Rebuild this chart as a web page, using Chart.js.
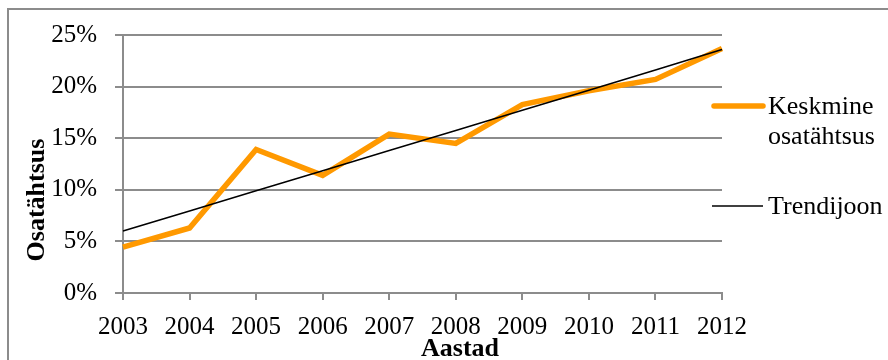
<!DOCTYPE html>
<html>
<head>
<meta charset="utf-8">
<script src="https://cdn.jsdelivr.net/npm/chart.js@4/dist/chart.umd.min.js"></script>
<style>
  html, body { margin: 0; padding: 0; background: #fff; overflow: hidden; }
  #wrap { position: relative; width: 888px; height: 360px; }
  #frame { position: absolute; left: 7px; top: 8px; width: 900px; height: 400px;
           border: 2px solid #8c8c8c; box-sizing: border-box; pointer-events: none; }
  canvas { position: absolute; left: 0; top: 0; }
</style>
</head>
<body>
<div id="wrap">
  <canvas id="c" width="888" height="360"></canvas>
  <div id="frame"></div>
</div>
<script>
const years = ['2003','2004','2005','2006','2007','2008','2009','2010','2011','2012'];
const keskmine = [4.45, 6.3, 13.9, 11.4, 15.4, 14.5, 18.25, 19.6, 20.7, 23.7];
const trend = [6.0, 7.95, 9.9, 11.85, 13.8, 15.75, 17.7, 19.65, 21.6, 23.6];
const seriesNames = ['Keskmine\nosatähtsus', 'Trendijoon'];
const yTitle = 'Osatähtsus';
const xTitle = 'Aastad';

const FONT = "'Liberation Serif', 'Times New Roman', serif";
const GRID = '#8c8c8c';
const ORANGE = '#ff9900';

const customText = {
  id: 'customText',
  afterDraw(chart) {
    const ctx = chart.ctx;
    const area = chart.chartArea;
    ctx.save();
    // axis titles
    ctx.fillStyle = '#000';
    ctx.font = 'bold 26px ' + FONT;
    ctx.textAlign = 'center';
    ctx.textBaseline = 'middle';
    ctx.save();
    ctx.translate(37, 200);
    ctx.rotate(-Math.PI / 2);
    ctx.fillText(yTitle, 0, 0);
    ctx.restore();
    ctx.fillText(xTitle, 460, 349);

    // legend
    const ds = chart.data.datasets;
    const entries = [
      { y: 106, color: ds[0].borderColor, width: 5.5, cap: 'round', lines: seriesNames[0].split('\n') },
      { y: 206, color: ds[1].borderColor, width: 1.5, cap: 'butt', lines: seriesNames[1].split('\n') }
    ];
    ctx.font = '26px ' + FONT;
    ctx.textAlign = 'left';
    entries.forEach(e => {
      ctx.beginPath();
      ctx.strokeStyle = e.color;
      ctx.lineWidth = e.width;
      ctx.lineCap = e.cap;
      ctx.moveTo(area.right - 10 + (e.cap === 'round' ? 2 : 0), e.y);
      ctx.lineTo(763, e.y);
      ctx.stroke();
      ctx.fillStyle = '#000';
      e.lines.forEach((t, i) => ctx.fillText(t, 768, e.y + 1 + i * 30));
    });
    ctx.restore();
  }
};

new Chart(document.getElementById('c'), {
  type: 'line',
  data: {
    labels: years,
    datasets: [
      { label: seriesNames[0], data: keskmine, borderColor: ORANGE, borderWidth: 5.5,
        pointRadius: 0, tension: 0, borderJoinStyle: 'miter', order: 2 },
      { label: seriesNames[1], data: trend, borderColor: '#000', borderWidth: 1.5,
        pointRadius: 0, tension: 0, order: 1 }
    ]
  },
  options: {
    responsive: false,
    animation: false,
    devicePixelRatio: 1,
    layout: { padding: { left: 0, right: 166, top: 35, bottom: 0 } },
    plugins: { legend: { display: false }, tooltip: { enabled: false } },
    scales: {
      x: {
        offset: false,
        grid: { display: true, drawOnChartArea: false, drawTicks: true, tickLength: 7,
                color: GRID, lineWidth: 2 },
        border: { display: true, color: GRID, width: 2 },
        ticks: { color: '#000', font: { family: FONT, size: 25 }, padding: 12,
                 maxRotation: 0, autoSkip: false },
        afterFit(s) { s.height = 67; }
      },
      y: {
        min: 0, max: 25,
        grid: { color: GRID, lineWidth: 2, tickLength: 8 },
        border: { display: true, color: GRID, width: 2 },
        ticks: { stepSize: 5, color: '#000', font: { family: FONT, size: 25 }, padding: 18,
                 callback: v => v + '%' },
        afterFit(s) { s.width = 123; }
      }
    }
  },
  plugins: [customText]
});
</script>
</body>
</html>
